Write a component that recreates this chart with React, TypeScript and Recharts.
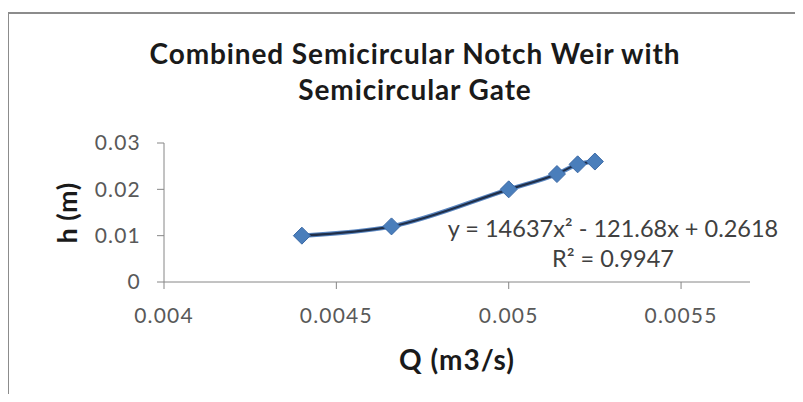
import React from 'react';
import { ComposedChart, Line, XAxis, YAxis } from 'recharts';

const flowQ = [0.0044, 0.00466, 0.005, 0.00514, 0.0052, 0.00525];
const headH = [0.01, 0.012, 0.02, 0.0233, 0.0254, 0.026];
const xTicks = [0.004, 0.0045, 0.005, 0.0055];
const yTicks = [0, 0.01, 0.02, 0.03];
const titleLines = ['Combined Semicircular Notch Weir with', 'Semicircular Gate'];
const trendEquation = 'y = 14637x² - 121.68x + 0.2618';
const trendR2 = 'R² = 0.9947';

const data = flowQ.map((q, i) => ({ q, h: headH[i] }));

const FONT = 'Lato, "Open Sans", sans-serif';

const Diamond = (props: any) => {
  const { cx, cy } = props;
  if (cx == null || cy == null) return null;
  const r = 8.5;
  return (
    <path
      d={`M${cx},${cy - r} L${cx + r},${cy} L${cx},${cy + r} L${cx - r},${cy} Z`}
      fill="#4a7ebb"
      stroke="#3c6aa6"
      strokeWidth={1}
    />
  );
};

export default function App() {
  return (
    <div style={{ position: 'relative', width: 803, height: 402, margin: -8, overflow: 'hidden', background: '#fff', fontFamily: FONT }}>
      <div style={{ position: 'absolute', left: 7, top: 12, width: 830, height: 430, border: '2px solid #8c8c8c', boxSizing: 'border-box' }} />
      <div style={{ position: 'absolute', left: 0, width: 830, top: 35, textAlign: 'center', fontWeight: 700, fontSize: 28, lineHeight: '36px', letterSpacing: 0.9, color: '#1a1a1a' }}>
        {titleLines.map(t => <div key={t}>{t}</div>)}
      </div>
      <div style={{ position: 'absolute', left: 0, top: 0 }}>
        <ComposedChart width={803} height={402} data={data} margin={{ top: 143, right: 53, bottom: 90, left: 104 }}>
          <XAxis
            type="number"
            dataKey="q"
            domain={[0.004, 0.0057]}
            ticks={xTicks}
            allowDataOverflow
            height={30}
            stroke="#868686"
            tickSize={7}
            tick={{ fill: '#595959', fontSize: 21, fontFamily: FONT, dy: 17, letterSpacing: 1.2 }}
            tickFormatter={(v: number) => String(v)}
          />
          <YAxis
            type="number"
            domain={[0, 0.03]}
            ticks={yTicks}
            width={60}
            stroke="#868686"
            tickSize={7}
            tickMargin={16}
            tick={{ fill: '#595959', fontSize: 21, fontFamily: FONT, letterSpacing: 1.2 }}
            tickFormatter={(v: number) => String(v)}
          />
          <Line
            type="monotone"
            dataKey="h"
            stroke="#5a86c0"
            strokeWidth={4.5}
            dot={false}
            activeDot={false}
            isAnimationActive={false}
          />
          <Line
            type="monotone"
            dataKey="h"
            stroke="#1f2f4a"
            strokeWidth={2.2}
            dot={<Diamond />}
            activeDot={false}
            isAnimationActive={false}
          />
        </ComposedChart>
      </div>
      <div style={{ position: 'absolute', left: 66, top: 213, transform: 'translate(-50%, -50%) rotate(-90deg)', fontWeight: 700, fontSize: 27, letterSpacing: 0.5, color: '#1a1a1a', whiteSpace: 'nowrap' }}>h (m)</div>
      <div style={{ position: 'absolute', left: 457, top: 359, transform: 'translate(-50%, -50%)', fontWeight: 700, fontSize: 28, letterSpacing: 1, color: '#1a1a1a', whiteSpace: 'nowrap' }}>Q (m3/s)</div>
      <div style={{ position: 'absolute', left: 613, top: 243, transform: 'translate(-50%, -50%)', textAlign: 'center', fontSize: 23.5, lineHeight: '30px', color: '#404040', whiteSpace: 'nowrap' }}>
        <div>{trendEquation}</div>
        <div>{trendR2}</div>
      </div>
    </div>
  );
}
